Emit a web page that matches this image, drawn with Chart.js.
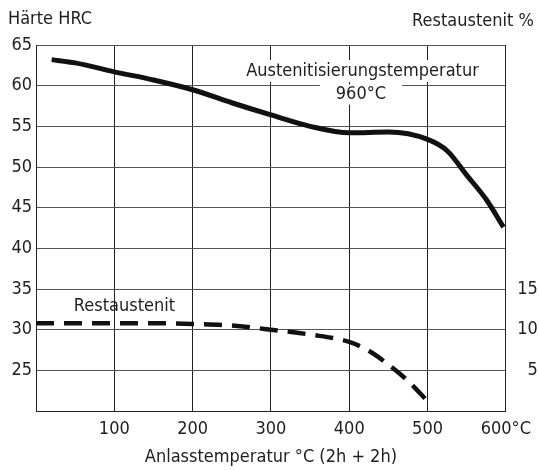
<!DOCTYPE html>
<html>
<head>
<meta charset="utf-8">
<script src="https://cdn.jsdelivr.net/npm/chart.js@4/dist/chart.umd.min.js"></script>
<style>
   body { margin: 0; background: #fff; }
   #wrap { width: 539px; height: 470px; }
</style>
</head>
<body>
<div id="wrap"><canvas id="haerteChart" width="539" height="470"></canvas></div>
<script>
const FONT = "'DejaVu Sans Condensed', 'DejaVu Sans', sans-serif";
const FSIZE = 18;
const INK = '#1e1e1e';

// Haerte HRC ueber Anlasstemperatur
const haerteTemp = [20, 50, 100, 150, 200, 250, 300, 350, 400, 450, 500, 525, 550, 575, 597];
const haerteHRC = [63.2, 62.8, 61.7, 60.7, 59.5, 57.9, 56.4, 55.0, 54.2, 54.3, 53.4, 52.0, 49.0, 46.0, 42.6];

// Restaustenit in %
const raTemp = [0, 50, 100, 150, 200, 250, 300, 350, 400, 425, 450, 475, 500];
const raProzent = [10.8, 10.8, 10.8, 10.8, 10.7, 10.5, 10.0, 9.4, 8.5, 7.4, 5.7, 3.7, 1.2];

const xTicks = [100, 200, 300, 400, 500, 600];
const hrcTicks = [25, 30, 35, 40, 45, 50, 55, 60, 65];
const raTicks = [5, 10, 15];

const toPoints = (xs, ys) => xs.map((x, i) => ({ x: x, y: ys[i] }));

// Beschriftungen im Diagramm (mit weissem Hintergrund ueber dem Gitter)
const labelsPlugin = {
   id: 'labels',
   beforeDatasetsDraw(chart) {
      const { ctx, scales } = chart;
      const x = scales.x, y = scales.y, y1 = scales.y1;
      ctx.save();
      ctx.font = FSIZE + 'px ' + FONT;
      ctx.textBaseline = 'middle';
      ctx.textAlign = 'center';

      const boxed = (text, cx, cy, padX, h) => {
         const w = ctx.measureText(text).width + padX * 2;
         ctx.fillStyle = '#fff';
         ctx.fillRect(cx - w / 2, cy - h / 2, w, h);
         ctx.fillStyle = INK;
         ctx.fillText(text, cx, cy);
      };
      boxed('Austenitisierungstemperatur', x.getPixelForValue(417), y.getPixelForValue(61.8), 3, 22);
      boxed('960°C', x.getPixelForValue(415), y.getPixelForValue(58.9), 16, 20);

      ctx.fillStyle = INK;
      ctx.fillText('Restaustenit', x.getPixelForValue(113), y.getPixelForValue(32.9));

      ctx.textAlign = 'left';
      ctx.fillText('Härte HRC', y.left + 8, 19);
      ctx.textAlign = 'right';
      ctx.fillText('Restaustenit %', y1.right - 4, 21);
      ctx.restore();
   }
};

const ctx = document.getElementById('haerteChart').getContext('2d');
const haerteChart = new Chart(ctx, {
   type: 'line',
   data: {
      datasets: [{
         label: 'Härte HRC',
         data: toPoints(haerteTemp, haerteHRC),
         yAxisID: 'y',
         borderColor: '#111',
         borderWidth: 5,
         pointRadius: 0,
         cubicInterpolationMode: 'monotone',
         fill: false
      }, {
         label: 'Restaustenit',
         data: toPoints(raTemp, raProzent),
         yAxisID: 'y1',
         borderColor: '#111',
         borderWidth: 4.5,
         borderDash: [18, 10],
         pointRadius: 0,
         cubicInterpolationMode: 'monotone',
         fill: false
      }]
   },
   options: {
      responsive: false,
      animation: false,
      layout: { padding: { top: 45, left: 0, right: 0, bottom: 0 } },
      plugins: {
         legend: { display: false },
         tooltip: { enabled: false }
      },
      scales: {
         x: {
            type: 'linear',
            min: 0,
            max: 600,
            afterFit: (s) => { s.height = 59; },
            afterBuildTicks: (s) => { s.ticks = [0].concat(xTicks).map(v => ({ value: v })); },
            ticks: {
               font: { family: FONT, size: FSIZE },
               color: INK,
               padding: 8,
               maxRotation: 0,
               autoSkip: false,
               callback: (v) => v === 600 ? '600°C' : (xTicks.includes(v) ? String(v) : '')
            },
            grid: { color: '#222', lineWidth: 1, drawTicks: false },
            border: { color: '#222', width: 1 },
            title: {
               display: true,
               text: 'Anlasstemperatur °C (2h + 2h)',
               font: { family: FONT, size: FSIZE },
               color: INK,
               padding: { top: 0, bottom: 2 }
            }
         },
         y: {
            position: 'left',
            min: 20,
            max: 65,
            afterFit: (s) => { s.width = 36; },
            afterBuildTicks: (s) => { s.ticks = [20].concat(hrcTicks).map(v => ({ value: v })); },
            ticks: {
               font: { family: FONT, size: FSIZE },
               color: INK,
               padding: 4,
               autoSkip: false,
               callback: (v) => hrcTicks.includes(v) ? String(v) : ''
            },
            grid: { color: '#555', lineWidth: 1, drawTicks: false },
            border: { color: '#222', width: 1 }
         },
         y1: {
            position: 'right',
            min: 0,
            max: 45,
            afterFit: (s) => { s.width = 32; },
            afterBuildTicks: (s) => { s.ticks = raTicks.map(v => ({ value: v })); },
            ticks: {
               font: { family: FONT, size: FSIZE },
               color: INK,
               padding: 6,
               crossAlign: 'far',
               autoSkip: false
            },
            grid: { display: false, drawTicks: false },
            border: { color: '#222', width: 1 }
         }
      }
   },
   plugins: [labelsPlugin]
});
</script>
</body>
</html>
